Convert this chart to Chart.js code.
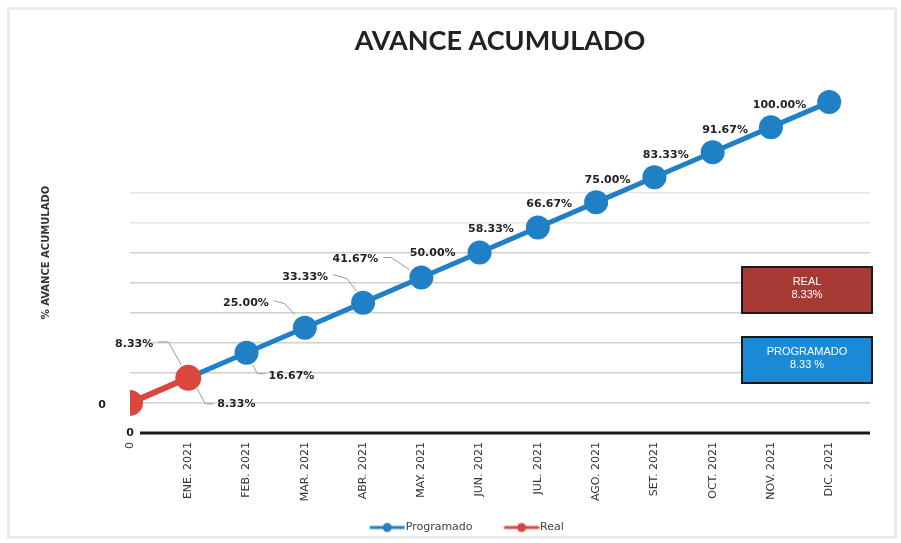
<!DOCTYPE html>
<html><head><meta charset="utf-8">
<script src="https://cdn.jsdelivr.net/npm/chart.js@4.4.1/dist/chart.umd.min.js"></script>
<style>html,body{margin:0;padding:0;background:#fff;}#wrap{width:901px;height:543px;}</style>
</head><body><div id="wrap"><canvas id="c" width="901" height="543"></canvas></div>
<script>
// ---- data ----
const categories = ["0","ENE. 2021","FEB. 2021","MAR. 2021","ABR. 2021","MAY. 2021","JUN. 2021","JUL. 2021","AGO. 2021","SET. 2021","OCT. 2021","NOV. 2021","DIC. 2021"];
const programado = [0, 8.33, 16.67, 25.00, 33.33, 41.67, 50.00, 58.33, 66.67, 75.00, 83.33, 91.67, 100.00];
const real = [0, 8.33];
const seriesNames = ["Programado", "Real"];
const yMin = -10, yMax = 110, yStep = 10;

// ---- style ----
const BLUE = '#1f80c6', RED = '#d9473f';
const progLabelPos = [
  null,
  {dx:-35, dy:-34, align:'right', leader:[[-30,-36],[-20,-36],[-7,-13]]},
  {dx:22, dy:23, align:'left', leader:[[6,12],[11,21],[19,21]]},
  {dx:-36, dy:-25, align:'right', leader:[[-31,-27],[-20,-24],[-10,-13]]},
  {dx:-35, dy:-26, align:'right', leader:[[-30,-28],[-16,-24],[-6,-11]]},
  {dx:-43, dy:-18, align:'right', leader:[[-38,-20],[-30,-20],[-12,-8]]},
  {dx:-24, dy:1, align:'right'},
  {dx:-24, dy:2, align:'right'},
  {dx:-24, dy:2, align:'right'},
  {dx:-24, dy:3, align:'right'},
  {dx:-24, dy:3, align:'right'},
  {dx:-23, dy:3, align:'right'},
  {dx:-23, dy:3, align:'right'}
];
const realLabelPos = [
  {dx:-24, dy:2, align:'right'},
  {dx:29, dy:26, align:'left', leader:[[9,11],[17,26],[25,26]]}
];
function fmt(v){ return v === 0 ? '0' : v.toFixed(2) + '%'; }

function legendMarker(color){
  const c = document.createElement('canvas');
  c.width = 68; c.height = 12;
  const g = c.getContext('2d');
  g.strokeStyle = color; g.lineWidth = 3;
  g.beginPath(); g.moveTo(32.5,6); g.lineTo(67.5,6); g.stroke();
  g.fillStyle = color; g.beginPath(); g.arc(50,6,4.5,0,Math.PI*2); g.fill();
  return c;
}

const labelPlugin = {
  id: 'labelPlugin',
  beforeDraw(chart){
    const ctx = chart.ctx;
    ctx.save();
    ctx.fillStyle = '#ffffff';
    ctx.fillRect(0,0,chart.width,chart.height);
    ctx.strokeStyle = '#ececec'; ctx.lineWidth = 3;
    ctx.strokeRect(8.5,8.5,chart.width-14,chart.height-14);
    ctx.restore();
  },
  afterDatasetsDraw(chart){
    const ctx = chart.ctx;
    const ca = chart.chartArea;
    ctx.save();
    // axis line
    ctx.strokeStyle = '#1a1a1a'; ctx.lineWidth = 3;
    ctx.beginPath(); ctx.moveTo(ca.left+10, ca.bottom); ctx.lineTo(ca.right, ca.bottom); ctx.stroke();
    ctx.font = 'bold 11px "DejaVu Sans"'; ctx.fillStyle = '#222'; ctx.textAlign = 'center'; ctx.textBaseline = 'middle';
    ctx.fillText('0', ca.left, ca.bottom);
    // data labels
    const sets = [[0, programado, progLabelPos],[1, real, realLabelPos]];
    sets.forEach(([di, vals, pos]) => {
      const meta = chart.getDatasetMeta(di);
      meta.data.forEach((pt, i) => {
        const p = pos[i];
        if (!p) return;
        if (p.leader){
          ctx.strokeStyle = '#9a9a9a'; ctx.lineWidth = 1;
          ctx.beginPath();
          p.leader.forEach(([lx,ly], k) => {
            if (k === 0) ctx.moveTo(pt.x+lx, pt.y+ly); else ctx.lineTo(pt.x+lx, pt.y+ly);
          });
          ctx.stroke();
        }
        ctx.font = 'bold 11px "DejaVu Sans"'; ctx.fillStyle = '#222';
        ctx.textAlign = p.align; ctx.textBaseline = 'middle';
        ctx.fillText(fmt(vals[i]), pt.x + p.dx, pt.y + p.dy);
      });
    });
    ctx.restore();
  },
  afterDraw(chart){
    const ctx = chart.ctx;
    const ca = chart.chartArea;
    const right = ca.right + 2, w = 130, h = 46, left = right - w;
    const last = real.length - 1;
    const boxes = [
      {top: ca.top + 195, fill: '#a83a36', lines: ['REAL', real[last].toFixed(2) + '%']},
      {top: ca.top + 265, fill: '#1a8ad6', lines: ['PROGRAMADO', programado[last].toFixed(2) + ' %']}
    ];
    ctx.save();
    boxes.forEach(b => {
      ctx.fillStyle = b.fill; ctx.fillRect(left, b.top, w, h);
      ctx.strokeStyle = '#1a1a1a'; ctx.lineWidth = 2; ctx.strokeRect(left, b.top, w, h);
      ctx.fillStyle = '#ffffff'; ctx.font = '11px "Liberation Sans"';
      ctx.textAlign = 'center'; ctx.textBaseline = 'middle';
      ctx.fillText(b.lines[0], left + w/2, b.top + 15);
      ctx.fillText(b.lines[1], left + w/2, b.top + 28);
    });
    ctx.restore();
  }
};

new Chart(document.getElementById('c'), {
  type: 'line',
  data: {
    datasets: [
      {label: seriesNames[0], data: programado.map((v,i)=>({x:i,y:v})), borderColor: BLUE, backgroundColor: BLUE,
       pointBackgroundColor: BLUE, pointBorderWidth: 0, pointRadius: 12, borderWidth: 5, order: 2, tension: 0},
      {label: seriesNames[1], data: real.map((v,i)=>({x:i,y:v})), borderColor: RED, backgroundColor: RED,
       pointBackgroundColor: RED, pointBorderWidth: 0, pointRadius: 13, borderWidth: 6, order: 1, tension: 0}
    ]
  },
  options: {
    responsive: false, animation: false,
    layout: {padding: {top: 8, left: 36, right: 31, bottom: 0}},
    plugins: {
      tooltip: {enabled: false},
      title: {display: true, text: 'AVANCE ACUMULADO', fullSize: false, color: '#222',
              font: {family: 'Lato', size: 27, weight: 'bold'}, padding: {top: 17, bottom: 14.6}},
      legend: {
        position: 'bottom',
        labels: {
          usePointStyle: true, pointStyleWidth: 58, boxHeight: 11, padding: 4,
          color: '#404040', font: {family: 'DejaVu Sans', size: 11},
          generateLabels(chart){
            return chart.data.datasets.map((ds, i) => ({
              text: ds.label, datasetIndex: i, fillStyle: ds.borderColor, strokeStyle: ds.borderColor,
              lineWidth: 0, hidden: false, pointStyle: legendMarker(ds.borderColor), fontColor: '#404040'
            }));
          }
        }
      }
    },
    scales: {
      x: {
        type: 'linear', min: 0, max: categories.length - 1 + 0.7,
        afterBuildTicks(scale){ scale.ticks = categories.map((_, i) => ({value: i})); },
        afterFit(scale){ scale.height = 85; },
        grid: {display: false, drawTicks: false}, border: {display: false},
        ticks: {autoSkip: false, minRotation: 90, maxRotation: 90, padding: 9, color: '#333',
                font: {family: 'DejaVu Sans', size: 11},
                callback: (v) => categories[v] !== undefined ? categories[v] : ''}
      },
      y: {
        min: yMin, max: yMax,
        afterFit(scale){ scale.width = 94; },
        ticks: {display: false, stepSize: yStep},
        border: {display: false},
        grid: {drawTicks: false, lineWidth: 1.5,
               color: (c) => { const v = c.tick.value; if (v >= 0 && v <= 50) return '#cfcfcf'; if (v > 50 && v <= 70) return '#e6e6e6'; return 'rgba(0,0,0,0)'; }},
        title: {display: true, text: '% AVANCE ACUMULADO', color: '#333', font: {family: 'DejaVu Sans', size: 10, weight: 'bold'}, padding: {top: 4, bottom: 4}}
      }
    }
  },
  plugins: [labelPlugin]
});
</script>
</body></html>
